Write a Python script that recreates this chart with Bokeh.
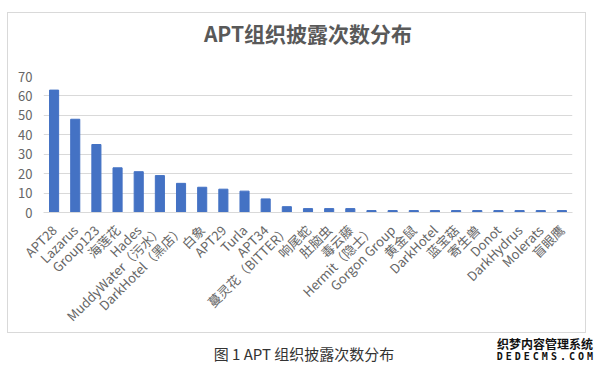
from bokeh.plotting import figure
from bokeh.models import FixedTicker, Range1d, Title, Div
from bokeh.layouts import column
from bokeh.embed import file_html
from bokeh.resources import INLINE
import math

groups = ["APT28", "Lazarus", "Group123", "海莲花", "Hades", "MuddyWater（污水）",
          "DarkHotel（黑店）", "白象", "APT29", "Turla", "APT34", "蔓灵花（BITTER）",
          "响尾蛇", "肚脑虫", "毒云藤", "Hermit（隐士）", "Gorgon Group", "黄金鼠",
          "DarkHotel", "蓝宝菇", "寄生兽", "Donot", "DarkHydrus", "Molerats", "盲眼鹰"]
counts = [63, 48, 35, 23, 21, 19, 15, 13, 12, 11, 7, 3, 2, 2, 2, 1, 1, 1, 1, 1, 1, 1, 1, 1, 1]
y_ticks = [0, 10, 20, 30, 40, 50, 60, 70]

FONT = "Noto Sans CJK SC"
GREY = "#666666"

xs = list(range(len(groups)))

p = figure(width=579, height=321, output_backend="svg", toolbar_location=None,
           x_range=Range1d(-0.5, len(groups) - 0.5), y_range=Range1d(0, 70),
           min_border_left=35, min_border_right=15, min_border_top=63, min_border_bottom=122,
           styles={"border": "1px solid #d9d9d9", "margin-left": "7px", "margin-top": "12px"})
p.outline_line_color = None
p.background_fill_color = "white"
p.border_fill_color = "white"

# invisible spacer between the title and the plot area
spacer = Title(text=" ", text_font_size="22px", text_color="white", standoff=0)
p.add_layout(spacer, "above")
t = Title(text="APT组织披露次数分布", align="center", offset=-6, text_font=FONT,
          text_font_size="21px", text_font_style="bold", text_color="#595959", standoff=4)
p.add_layout(t, "above")

p.vbar(x=xs, top=counts, width=0.43, color="#4472C4")

p.xaxis.ticker = FixedTicker(ticks=xs)
p.xaxis.major_label_overrides = {i: g for i, g in enumerate(groups)}
p.xaxis.major_label_orientation = math.pi / 4
p.xaxis.major_tick_line_color = None
p.xaxis.minor_tick_line_color = None
p.xaxis.axis_line_color = "#d9d9d9"
p.xaxis.major_label_text_font = FONT
p.xaxis.major_label_text_font_size = "13px"
p.xaxis.major_label_text_color = GREY
p.xaxis.major_label_standoff = 9

p.yaxis.ticker = FixedTicker(ticks=y_ticks)
p.yaxis.major_tick_line_color = None
p.yaxis.minor_tick_line_color = None
p.yaxis.axis_line_color = None
p.yaxis.major_label_text_font = FONT
p.yaxis.major_label_text_font_size = "13px"
p.yaxis.major_label_text_color = GREY
p.yaxis.major_label_standoff = 5

p.xgrid.grid_line_color = None
p.ygrid.grid_line_color = "#d9d9d9"

caption = Div(width=598, height=34, text=(
    '<div style="position:relative;width:598px;height:34px;font-family:\'Noto Sans CJK SC\';">'
    '<span style="position:absolute;left:0;width:598px;top:6px;text-align:center;'
    'font-size:15px;line-height:20px;color:#333333;">图 1 APT 组织披露次数分布</span>'
    '<span style="position:absolute;right:10px;top:0px;font-size:12px;font-weight:bold;'
    'color:#111111;line-height:12px;">织梦内容管理系统</span>'
    '<span style="position:absolute;right:10px;top:14px;font-size:10px;font-weight:bold;'
    'letter-spacing:3px;margin-right:-3px;color:#111111;line-height:10px;'
    'font-family:\'DejaVu Sans Mono\';">DEDECMS.COM</span>'
    '</div>'))

layout = column(p, caption)
open("out.html", "w").write(file_html(layout, INLINE))
